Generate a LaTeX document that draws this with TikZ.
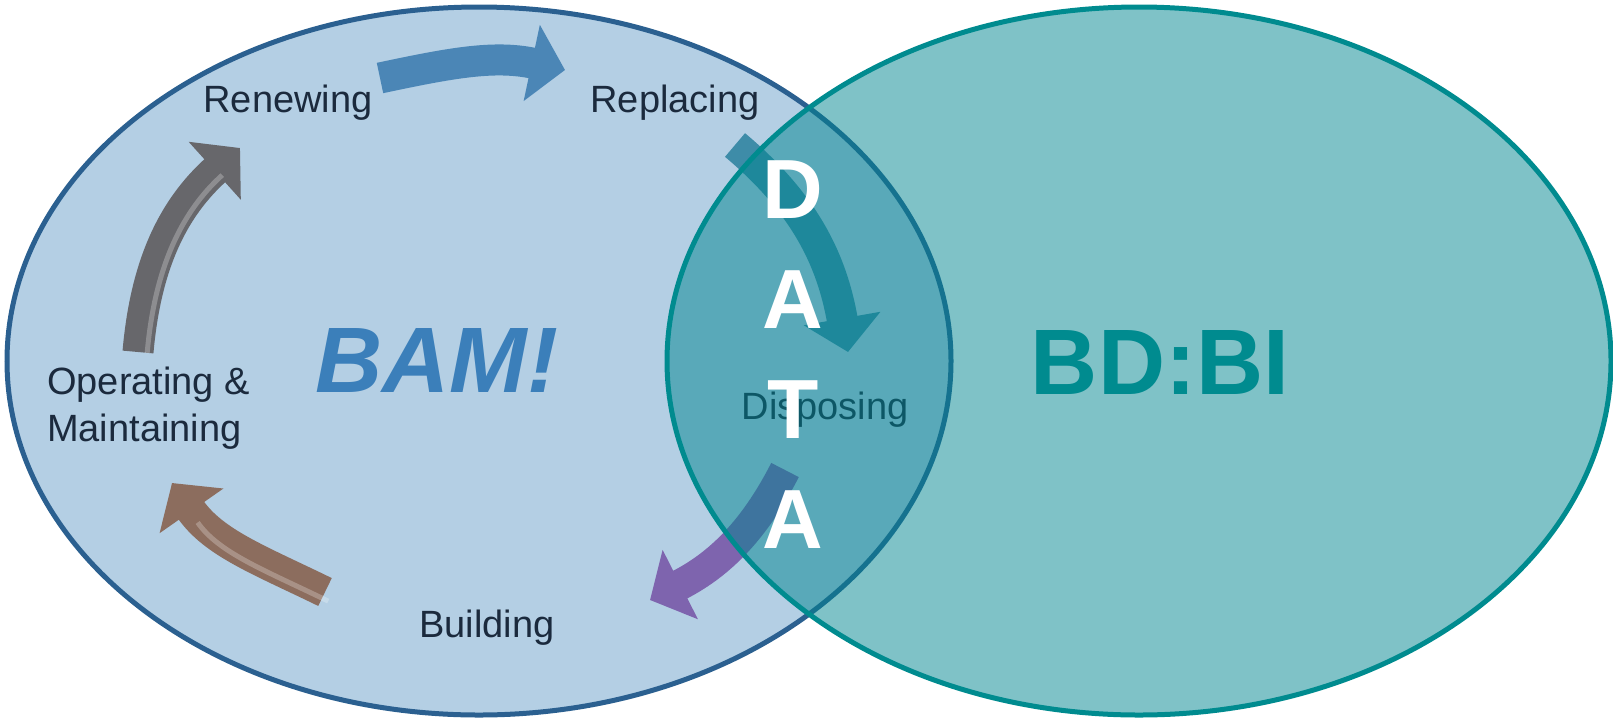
\documentclass[tikz,border=0pt]{standalone}
\usepackage{fontspec}
\setmainfont{Liberation Sans}
\usetikzlibrary{shapes.geometric,arrows.meta}
\definecolor{bamfill}{RGB}{180,207,228}
\definecolor{bamline}{RGB}{43,96,144}
\definecolor{bdbifill}{RGB}{0,133,143}
\definecolor{bdbiline}{RGB}{0,139,143}
\definecolor{bamtext}{RGB}{59,127,186}
\definecolor{stagetext}{RGB}{27,42,61}
\definecolor{renewarrow}{RGB}{75,134,182}
\definecolor{replacearrow}{RGB}{62,140,168}
\definecolor{disposearrow}{RGB}{126,100,174}
\definecolor{buildarrow}{RGB}{140,109,94}
\definecolor{operatearrow}{RGB}{103,103,107}
\newcommand{\stagefont}{\fontsize{38}{47}\selectfont}
\newcommand{\bigfont}{\fontsize{93}{100}\selectfont\bfseries}
\newcommand{\datafont}{\fontsize{84}{110}\selectfont\bfseries}

\begin{document}
\begin{tikzpicture}[x=1pt,y=-1pt,
  stage/.style={text=stagetext,font=\stagefont,inner sep=0},
  ring/.style={line width=31pt,-{Triangle[width=76pt,length=34pt]}},
  bevel/.style={line width=5pt,white,opacity=0.25,shorten >=36pt,shorten <=2pt},
  field/.style={ellipse,line width=5pt,inner sep=0,minimum width=944pt,minimum height=708pt}]
\useasboundingbox (0,0) rectangle (1613,721);

\node (bam) [field,draw=bamline,fill=bamfill] at (479,361) {};

\node (renewing) [stage] at (288,103) {Renewing};
\node (replacing) [stage] at (675,103) {Replacing};
\node (disposing) [stage] at (825,410) {Disposing};
\node (building) [stage] at (487,628) {Building};
\node (operating) [stage,align=left,anchor=west] at (47,408) {Operating \&\\Maintaining};

\coordinate (renew tail) at (380,78);
\coordinate (renew tip) at (565,70);
\coordinate (replace tail) at (735,145);
\coordinate (replace tip) at (848,352);
\coordinate (dispose tail) at (785,470);
\coordinate (dispose tip) at (650,600);
\coordinate (build tail) at (325,592);
\coordinate (build tip) at (172,483);
\coordinate (operate tail) at (138,352);
\coordinate (operate tip) at (240,148);

\path [ring]

(renew tail)
edge [renewarrow,out=12,in=168]
(renew tip)

(replace tail)
edge [replacearrow,out=-40,in=100]
(replace tip)

(dispose tail)
edge [disposearrow,out=-117,in=27]
(dispose tip)

(build tail)
edge [buildarrow,out=154,in=-55]
(build tip)

(operate tail)
edge [operatearrow,out=85,in=222]
(operate tip)

;

\path [bevel]

(build tail)
edge [transform canvas={shift={(5,10)}},out=154,in=-55]
(build tip)

(operate tail)
edge [transform canvas={shift={(9,3)}},out=85,in=222]
(operate tip)

;

\node (bdbi) [field,draw=bdbiline,fill=bdbifill,fill opacity=0.5] at (1139,361) {};

\node (bamlabel) [text=bamtext,font=\bigfont\itshape] at (437,360) {BAM!};
\node (bdbilabel) [text=bdbiline,font=\bigfont] at (1160,362) {BD:BI};
\node (data) [text=white,font=\datafont,align=center] at (793,355) {D\\A\\T\\A};
\end{tikzpicture}
\end{document}
